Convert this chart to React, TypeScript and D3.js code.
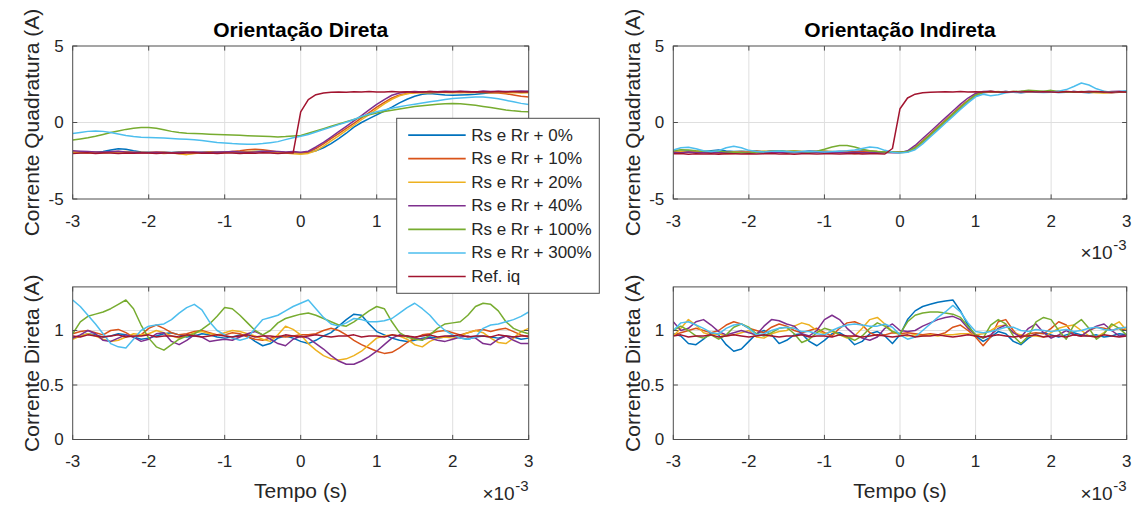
import * as d3 from "d3";

// time axis in ms (plotted with a x10^-3 exponent label)
const TIME_MS = d3.range(-30, 31).map((v) => v / 10);
const X_TICKS = [-3, -2, -1, 0, 1, 2, 3];
const IQ_TICKS = [-5, 0, 5];
const ID_TICKS = [0, 0.5, 1];

const SERIES_NAMES = [
  "Rs e Rr + 0%",
  "Rs e Rr + 10%",
  "Rs e Rr + 20%",
  "Rs e Rr + 40%",
  "Rs e Rr + 100%",
  "Rs e Rr + 300%",
  "Ref. iq",
];
const SERIES_COLORS = ["#0072BD", "#D95319", "#EDB120", "#7E2F8E", "#77AC30", "#4DBEEE", "#A2142F"];

// ---- Orientação Direta, corrente de quadratura ----
const IQD_0 = [
  -1.95, -1.97, -1.93, -1.96, -1.9, -1.8, -1.72, -1.75, -1.85, -1.92,
  -1.95, -1.97, -1.94, -1.96, -1.93, -1.95, -1.97, -1.94, -1.92, -1.95,
  -1.93, -1.96, -1.94, -1.92, -1.9, -1.88, -1.92, -1.95, -1.97, -1.98,
  -2.0, -1.97, -1.85, -1.65, -1.38, -1.05, -0.7, -0.3, 0.0, 0.25,
  0.5, 0.75, 1.0, 1.28, 1.52, 1.72, 1.85, 1.9, 1.85, 1.8,
  1.78, 1.8, 1.82, 1.85, 1.9, 1.95, 1.98, 2.0, 1.98, 2.0,
  2.02,
];
const IQD_10 = [
  -1.92, -1.95, -1.97, -1.94, -1.96, -1.93, -1.9, -1.95, -1.97, -1.94,
  -1.96, -1.93, -1.95, -1.97, -1.94, -1.92, -1.95, -1.96, -1.93, -1.95,
  -1.94, -1.9, -1.85, -1.78, -1.75, -1.78, -1.85, -1.92, -1.96, -1.98,
  -2.0, -1.93, -1.7, -1.4, -1.05, -0.72, -0.38, -0.05, 0.3, 0.65,
  1.0, 1.32, 1.6, 1.8, 1.9, 1.95, 1.98, 1.96, 1.98, 2.0,
  1.98, 1.96, 1.98, 2.0, 1.97, 1.95, 1.92, 1.88, 1.8, 1.72,
  1.67,
];
const IQD_20 = [
  -1.95, -1.98, -2.0, -1.97, -1.99, -1.96, -1.93, -1.9, -1.95, -1.98,
  -2.0, -1.97, -2.02, -1.99, -2.05, -2.1, -2.02, -1.98, -1.96, -1.99,
  -1.97, -1.95, -1.92, -1.9, -1.88, -1.92, -1.95, -1.97, -2.0, -2.05,
  -2.08, -2.02, -1.85, -1.55, -1.2, -0.88, -0.52, -0.18, 0.18, 0.52,
  0.88, 1.22, 1.52, 1.75, 1.88, 1.94, 1.96, 1.95, 1.97, 1.96,
  1.95, 1.97, 1.94, 1.96, 1.98, 1.95, 1.97, 1.94, 1.96, 1.93,
  1.95,
];
const IQD_40 = [
  -1.85, -1.88, -1.9, -1.92, -1.95, -1.9, -1.88, -1.92, -1.95, -1.98,
  -1.97, -1.95, -1.98, -2.0, -1.97, -1.95, -1.93, -1.96, -1.98, -1.95,
  -1.93, -1.9, -1.92, -1.95, -1.93, -1.9, -1.88, -1.9, -1.92, -1.9,
  -1.95, -1.88, -1.6, -1.3, -0.95, -0.6, -0.25, 0.1, 0.45, 0.82,
  1.18, 1.5, 1.78, 1.93, 2.0, 2.02, 2.0, 2.03, 2.01, 2.04,
  2.02, 2.05, 2.03, 2.0, 2.06, 2.03, 2.05, 2.02, 2.04, 2.06,
  2.05,
];
const IQD_100 = [
  -1.15, -1.08, -1.0, -0.9, -0.78, -0.65, -0.55, -0.45, -0.38, -0.33,
  -0.33, -0.38, -0.48, -0.58, -0.65, -0.7, -0.72, -0.74, -0.76, -0.78,
  -0.8, -0.82, -0.84, -0.86, -0.88, -0.9, -0.92, -0.94, -0.92, -0.88,
  -0.85, -0.7, -0.55, -0.4, -0.25, -0.1, 0.05, 0.2, 0.35, 0.5,
  0.62, 0.72, 0.8, 0.88, 0.96, 1.04, 1.1, 1.15, 1.2, 1.23,
  1.24, 1.22, 1.18, 1.12, 1.05, 0.98, 0.9, 0.82, 0.76, 0.72,
  0.7,
];
const IQD_300 = [
  -0.72, -0.65, -0.58, -0.55, -0.58, -0.65, -0.75, -0.85, -0.92, -0.97,
  -0.98, -1.0, -1.02, -1.05, -1.08, -1.1, -1.12, -1.18, -1.24, -1.3,
  -1.34, -1.38, -1.4, -1.42, -1.42, -1.38, -1.32, -1.25, -1.12, -1.0,
  -0.9, -0.78, -0.62, -0.46, -0.3, -0.14, 0.02, 0.2, 0.4, 0.55,
  0.7, 0.82, 0.93, 1.03, 1.12, 1.2, 1.28, 1.35, 1.42, 1.5,
  1.57, 1.6, 1.63, 1.66, 1.67, 1.62, 1.55, 1.45, 1.35, 1.25,
  1.17,
];
const IQD_REF = [
  -2.02, -2.0, -1.98, -2.03, -2.0, -1.99, -2.02, -2.0, -2.01, -1.99,
  -2.0, -2.02, -1.99, -2.0, -2.03, -2.0, -1.98, -2.01, -2.0, -2.02,
  -2.0, -1.99, -2.02, -2.0, -2.01, -1.98, -2.0, -2.02, -2.0, -2.0,
  0.7, 1.5, 1.82, 1.93, 1.98, 2.0, 1.98, 2.01, 2.0, 2.02,
  2.0, 1.99, 2.02, 2.0, 2.01, 1.98, 2.0, 2.02, 2.0, 2.01,
  1.99, 2.02, 2.0, 2.01, 2.0, 1.99, 2.02, 2.0, 2.01, 2.0,
  2.0,
];

// ---- Orientação Indireta, corrente de quadratura ----
const IQI_0 = [
  -1.88, -1.9, -1.86, -1.92, -1.89, -1.85, -1.8, -1.86, -1.9, -1.88,
  -1.9, -1.87, -1.92, -1.88, -1.85, -1.9, -1.88, -1.91, -1.87, -1.9,
  -1.88, -1.91, -1.89, -1.92, -1.9, -1.87, -1.9, -1.92, -1.89, -1.93,
  -1.95, -1.92, -1.7, -1.3, -0.85, -0.4, 0.05, 0.5, 0.95, 1.35,
  1.75, 1.95, 2.0, 1.97, 2.02, 1.98, 1.95, 2.0, 2.02, 1.97,
  2.0, 1.96, 1.98, 2.02, 1.97, 1.95, 2.0, 1.98, 1.96, 2.0,
  2.02,
];
const IQI_10 = [
  -1.9, -1.95, -1.93, -1.88, -1.92, -1.96, -2.0, -2.05, -2.02, -1.95,
  -1.9, -1.88, -1.92, -1.87, -1.9, -1.93, -1.89, -1.92, -1.9, -1.88,
  -1.9, -1.93, -1.9, -1.88, -1.91, -1.89, -1.86, -1.9, -1.92, -1.94,
  -1.95, -1.9, -1.62, -1.2, -0.75, -0.3, 0.15, 0.6, 1.05, 1.45,
  1.82, 1.98, 2.02, 1.98, 2.0, 2.03, 1.98, 2.0, 1.97, 2.01,
  1.98, 2.02, 2.0, 1.97, 2.01, 1.98, 2.0, 1.96, 1.94, 1.98,
  2.0,
];
const IQI_20 = [
  -1.92, -1.9, -1.95, -1.92, -1.89, -1.93, -1.9, -1.95, -1.92, -1.9,
  -1.93, -1.9, -1.88, -1.92, -1.95, -1.9, -1.87, -1.9, -1.93, -1.9,
  -1.88, -1.9, -1.93, -1.96, -2.05, -2.0, -1.93, -1.9, -1.92, -1.95,
  -1.97, -1.93, -1.68, -1.28, -0.83, -0.38, 0.08, 0.53, 0.98, 1.4,
  1.8, 1.97, 2.0, 2.03, 1.98, 2.0, 2.02, 1.98, 2.0, 1.97,
  2.0, 1.98, 2.02, 1.99, 2.0, 1.97, 1.95, 1.92, 1.97, 2.0,
  1.98,
];
const IQI_40 = [
  -1.95, -1.97, -1.93, -1.96, -1.98, -1.94, -1.96, -1.93, -1.97, -1.95,
  -1.96, -1.94, -1.97, -1.95, -1.93, -1.96, -1.98, -1.94, -1.96, -1.95,
  -1.93, -1.96, -1.94, -1.97, -1.95, -1.98, -1.96, -1.94, -1.96, -1.97,
  -1.97, -1.85, -1.5, -1.05, -0.6, -0.15, 0.3, 0.75, 1.2, 1.6,
  1.9, 2.02, 2.05, 2.0, 2.03, 1.98, 2.02, 2.05, 2.0, 2.03,
  2.0, 2.02, 1.98, 2.03, 2.0, 2.04, 2.01, 1.98, 2.02, 2.05,
  2.0,
];
const IQI_100 = [
  -1.85, -1.78, -1.8, -1.85, -1.88, -1.9, -1.87, -1.92, -1.95, -1.98,
  -2.0, -1.95, -1.9, -1.88, -1.85, -1.9, -1.88, -1.9, -1.92, -1.88,
  -1.75, -1.6, -1.5, -1.5, -1.6, -1.75, -1.85, -1.9, -1.92, -1.93,
  -1.95, -1.9, -1.65, -1.25, -0.8, -0.35, 0.1, 0.55, 1.0, 1.42,
  1.8, 1.97, 2.02, 2.0, 1.98, 2.02, 2.05, 2.1, 2.08, 2.05,
  2.1, 2.02, 2.0, 1.98, 2.02, 1.99, 2.0, 2.03, 1.98, 2.0,
  2.02,
];
const IQI_300 = [
  -1.8, -1.65, -1.62, -1.72, -1.85, -1.9, -1.85, -1.65, -1.55, -1.65,
  -1.82, -1.9, -1.92, -1.88, -1.86, -1.9, -1.93, -1.9, -1.88, -1.9,
  -1.92, -1.9, -1.88, -1.85, -1.8, -1.7, -1.6, -1.65, -1.82, -1.95,
  -2.0, -1.95, -1.78, -1.4, -0.95, -0.5, -0.05, 0.4, 0.85, 1.28,
  1.68, 1.85, 1.75, 1.82, 1.95, 2.0, 1.97, 2.02, 1.98, 1.96,
  1.98, 2.05, 2.15, 2.35, 2.58, 2.45, 2.2, 2.05, 1.98, 2.02,
  2.08,
];
const IQI_REF = [
  -2.05, -2.03, -2.07, -2.04, -2.06, -2.05, -2.08, -2.04, -2.05, -2.06,
  -2.04, -2.06, -2.05, -2.03, -2.06, -2.05, -2.07, -2.04, -2.05, -2.06,
  -2.05, -2.04, -2.06, -2.05, -2.03, -2.06, -2.05, -2.04, -2.06, -1.7,
  0.9, 1.6, 1.85, 1.94, 1.98, 2.0, 2.01, 1.99, 2.02, 2.0,
  2.01, 1.99, 2.02, 2.0, 1.98, 2.01, 2.0, 2.02, 1.99, 2.01,
  2.0, 1.98, 2.02, 2.0, 2.01, 1.99, 2.02, 2.0, 1.98, 2.01,
  2.0,
];

// ---- Orientação Direta, corrente direta ----
const IDD_0 = [
  0.93, 0.95, 0.97, 0.96, 0.94, 0.95, 0.97, 0.96, 0.94, 0.92,
  0.93, 0.95, 0.97, 0.98, 0.96, 0.94, 0.95, 0.97, 0.96, 0.94,
  0.93, 0.94, 0.96, 0.95, 0.9, 0.86, 0.88, 0.93, 0.95, 0.93,
  0.9, 0.88, 0.91, 0.95, 0.98, 1.04, 1.1, 1.15, 1.14, 1.06,
  0.99, 0.96, 0.93, 0.91, 0.9, 0.91, 0.93, 0.94, 0.93, 0.94,
  0.95, 0.93, 0.92, 0.94, 0.95, 0.94, 0.93, 0.95, 0.94, 0.92,
  0.93,
];
const IDD_10 = [
  0.97, 0.99, 1.0, 0.98, 0.96, 1.0, 1.01, 0.98, 0.94, 0.96,
  1.02, 1.05, 1.02, 0.98, 0.96, 0.97, 0.99, 1.0, 0.98, 0.96,
  0.96, 0.98, 0.97, 0.94, 0.92, 0.91, 0.93, 0.95, 0.94, 0.95,
  0.96, 0.96, 0.97, 1.0, 1.02, 1.0, 0.96, 0.91, 0.87, 0.84,
  0.81, 0.79, 0.8, 0.84, 0.89, 0.93, 0.96, 0.97, 0.99, 1.0,
  0.98, 0.96, 0.98, 1.0, 1.01, 0.99, 1.01, 1.02, 0.99, 0.96,
  0.94,
];
const IDD_20 = [
  0.92, 0.95, 0.97, 0.95, 0.92, 0.9, 0.91, 0.94, 0.97, 0.96,
  0.97, 1.0, 0.98, 0.95, 0.93, 0.95, 0.98, 0.99, 0.97, 0.96,
  0.98, 1.0, 0.99, 0.97, 0.95, 0.92, 0.9, 0.96, 1.04, 1.01,
  0.96, 0.88, 0.82, 0.77, 0.74, 0.73, 0.74, 0.77, 0.81, 0.87,
  0.93, 0.95, 0.96, 0.95, 0.92, 0.87, 0.85, 0.9, 0.93, 0.94,
  0.93, 0.95, 0.98, 1.0, 0.98, 0.93, 0.89, 0.88, 0.93, 0.99,
  1.02,
];
const IDD_40 = [
  0.93, 0.96, 1.0, 0.97, 0.91, 0.9, 0.93, 0.96, 0.94, 0.9,
  0.92, 0.97, 0.98, 0.9, 0.87, 0.91, 0.96, 0.94, 0.9, 0.91,
  0.92, 0.91, 0.94, 0.97, 0.99, 0.96, 0.92, 0.88, 0.86, 0.92,
  0.95, 0.93, 0.88, 0.83, 0.77, 0.72, 0.69, 0.69, 0.72, 0.76,
  0.81, 0.87, 0.93, 0.96, 0.95, 0.93, 0.92, 0.93, 0.91, 0.9,
  0.92, 0.94, 0.95, 0.93, 0.88, 0.87, 0.92, 0.95, 0.91, 0.88,
  0.88,
];
const IDD_100 = [
  0.97, 1.08, 1.13, 1.15, 1.17, 1.2, 1.24, 1.28, 1.2, 1.05,
  0.93, 0.85, 0.82, 0.87, 0.92, 0.95, 0.97, 1.01, 1.06, 1.13,
  1.21, 1.2, 1.14, 1.07, 1.0, 0.96, 1.0, 1.07, 1.11, 1.13,
  1.15, 1.16, 1.14, 1.11, 1.08, 1.05, 1.04, 1.08, 1.13, 1.18,
  1.22, 1.2, 1.08, 0.98, 0.94, 0.92, 0.91, 0.96, 1.02, 1.06,
  1.07, 1.08, 1.14, 1.22, 1.25, 1.24, 1.18, 1.08, 1.02, 0.99,
  0.97,
];
const IDD_300 = [
  1.28, 1.22, 1.14, 1.06, 0.97, 0.88, 0.85, 0.84, 0.92, 1.0,
  1.04, 1.05, 1.06, 1.1, 1.16, 1.21, 1.24, 1.19, 1.08, 1.0,
  0.96, 0.93, 0.91, 0.93, 1.02, 1.1, 1.12, 1.14, 1.18, 1.22,
  1.25, 1.28, 1.2, 1.12, 1.06, 1.04, 1.07, 1.11, 1.1, 1.08,
  1.08, 1.09, 1.11, 1.16, 1.21, 1.25, 1.2, 1.14, 1.06, 1.0,
  0.96, 0.93, 0.92, 0.94, 1.02, 1.05, 1.06, 1.08, 1.1, 1.13,
  1.17,
];
const IDD_REF = [
  0.95, 0.94, 0.96, 0.95, 0.94, 0.95, 0.96, 0.94, 0.95, 0.95,
  0.96, 0.94, 0.95, 0.95, 0.94, 0.96, 0.95, 0.94, 0.95, 0.96,
  0.95, 0.94, 0.95, 0.96, 0.94, 0.95, 0.95, 0.94, 0.96, 0.95,
  0.94, 0.95, 0.96, 0.95, 0.94, 0.95, 0.95, 0.96, 0.94, 0.95,
  0.95, 0.94, 0.96, 0.95, 0.95, 0.94, 0.95, 0.96, 0.94, 0.95,
  0.95, 0.96, 0.94, 0.95, 0.95, 0.94, 0.96, 0.95, 0.94, 0.95,
  0.95,
];

// ---- Orientação Indireta, corrente direta ----
const IDI_0 = [
  0.97, 0.95, 0.88, 0.87, 0.92, 0.98, 0.96, 0.87, 0.81, 0.83,
  0.9, 0.97, 1.0, 0.96, 0.88, 0.91, 0.96, 0.97, 0.9, 0.86,
  0.91, 0.97, 0.98, 0.94, 0.87, 0.9, 0.97, 0.99, 0.95, 0.88,
  0.96, 1.1, 1.18, 1.22, 1.24, 1.26, 1.27, 1.28, 1.18, 1.05,
  0.95, 0.9, 0.94, 0.99, 0.97, 0.9, 0.87, 0.93, 0.97, 0.98,
  0.96, 0.94, 0.96, 0.98, 0.96, 0.95, 0.96, 0.94, 0.95, 0.97,
  0.96,
];
const IDI_10 = [
  0.96, 0.98, 1.0, 1.02, 1.0, 0.98, 1.0, 1.05, 1.08, 1.06,
  1.02, 1.0, 0.98, 1.03, 1.06, 1.04, 1.0, 0.98, 1.0, 1.02,
  0.98, 0.95, 1.02, 1.07, 1.08, 1.05, 0.98, 0.95, 0.96, 0.98,
  0.97, 0.98, 0.97, 0.96, 0.97, 0.96, 0.98, 1.03, 1.05, 1.0,
  0.94, 0.86, 0.94, 1.08, 1.1, 1.0, 0.93, 0.97, 0.98, 0.97,
  1.02, 1.08, 1.05, 0.96, 0.95, 1.0, 1.03, 1.02, 1.0, 1.02,
  1.0,
];
const IDI_20 = [
  0.95, 1.02, 1.1, 1.05, 0.98, 0.96, 0.97, 0.95, 0.96, 0.98,
  1.0, 0.94, 0.93, 0.97, 0.99, 1.0, 1.04, 1.07, 1.05, 1.0,
  0.97, 0.99, 0.96, 0.93, 0.95, 1.02, 1.1, 1.12, 1.06, 0.99,
  0.96, 0.95, 0.96, 0.95, 0.96, 0.95, 0.96, 0.96, 0.97, 0.97,
  0.96, 0.97, 1.0, 1.04, 1.05, 0.98, 0.96, 0.95, 0.95, 0.94,
  0.98, 1.02, 1.04, 1.05, 1.0, 0.95, 0.94, 0.98, 1.04, 1.08,
  1.0,
];
const IDI_40 = [
  1.08, 1.0, 1.02, 1.08, 1.1, 1.05, 0.99, 0.96, 0.98, 1.0,
  0.98, 0.96, 1.04, 1.1, 1.09, 1.06, 1.04, 0.97, 0.95, 1.0,
  1.1, 1.14, 1.1, 1.02, 0.96, 0.93, 0.91, 0.94, 1.02, 1.06,
  1.0, 0.99, 1.0, 1.04, 1.07, 1.1, 1.12, 1.13, 1.1, 1.02,
  0.96, 0.93, 0.96, 1.02, 1.05, 0.98, 0.94, 1.02, 1.06, 0.98,
  0.93, 0.96, 1.0, 0.96, 0.95, 1.0, 1.04, 1.06, 1.0, 0.95,
  0.96,
];
const IDI_100 = [
  1.0, 1.04, 1.0, 0.95, 0.93, 0.96, 0.92, 0.96, 1.03, 1.06,
  1.03, 0.97, 0.95, 0.98, 1.02, 1.03, 0.97, 0.89, 0.92, 0.98,
  1.02, 1.0, 0.96, 0.94, 0.91, 0.95, 1.02, 1.07, 1.04, 0.99,
  0.97, 1.08, 1.14, 1.16, 1.17, 1.17, 1.16, 1.15, 1.12, 1.04,
  0.96, 0.93, 1.05, 1.1, 1.06, 0.95, 0.88, 0.95, 1.08, 1.12,
  1.1, 1.0, 0.92, 1.05, 1.1, 1.02, 0.92, 0.97, 1.06, 1.02,
  0.96,
];
const IDI_300 = [
  1.0, 1.07, 1.08, 1.05, 1.02, 0.98, 0.97, 1.02, 1.05, 1.06,
  1.02, 0.96, 0.97, 1.0, 1.02, 1.03, 1.02, 0.99, 0.99, 0.97,
  0.96, 1.0, 1.03, 1.05, 1.06, 1.05, 1.04, 1.04, 1.06, 1.03,
  0.96, 0.92, 0.94, 1.0, 1.06, 1.12, 1.17, 1.23, 1.17, 1.07,
  0.99, 0.98, 0.99, 1.01, 1.03, 1.03, 1.0, 0.99, 1.01, 1.0,
  0.99, 1.0, 1.01, 0.99, 1.0, 1.02, 1.03, 1.01, 1.0, 1.02,
  1.03,
];
const IDI_REF = [
  0.95, 0.96, 0.94, 0.95, 0.95, 0.96, 0.94, 0.95, 0.96, 0.95,
  0.94, 0.95, 0.96, 0.95, 0.94, 0.95, 0.95, 0.96, 0.94, 0.95,
  0.95, 0.94, 0.96, 0.95, 0.95, 0.94, 0.95, 0.96, 0.95, 0.94,
  0.95, 0.96, 0.94, 0.95, 0.95, 0.96, 0.95, 0.94, 0.95, 0.96,
  0.95, 0.94, 0.95, 0.96, 0.95, 0.94, 0.95, 0.95, 0.96, 0.94,
  0.95, 0.95, 0.94, 0.96, 0.95, 0.95, 0.94, 0.96, 0.95, 0.94,
  0.95,
];

const FONT = "'Liberation Sans', Arial, Helvetica, sans-serif";
const TEXT_COLOR = "#262626";

type PanelProps = {
  id: string;
  left: number;
  right: number;
  top: number;
  bottom: number;
  yDomain: [number, number];
  yTicks: number[];
  series: number[][];
  yLabel: string;
  title?: string;
  xLabel?: string;
  showExponent?: boolean;
  // tick labels right of this x sit under the legend in the original, so they are left out
  xLabelLimit?: number;
};

function Panel({
  id,
  left,
  right,
  top,
  bottom,
  yDomain,
  yTicks,
  series,
  yLabel,
  title,
  xLabel,
  showExponent,
  xLabelLimit = Infinity,
}: PanelProps) {
  const x = d3.scaleLinear().domain([-3, 3]).range([left, right]);
  const y = d3.scaleLinear().domain(yDomain).range([bottom, top]);
  const line = d3
    .line<number>()
    .x((_, i) => x(TIME_MS[i]))
    .y((d) => y(d));
  const tickLen = 4.6;
  const midX = (left + right) / 2;
  const midY = (top + bottom) / 2;

  return (
    <g>
      <defs>
        <clipPath id={`clip-${id}`}>
          <rect x={left} y={top} width={right - left} height={bottom - top} />
        </clipPath>
      </defs>
      <rect x={left} y={top} width={right - left} height={bottom - top} fill="#fff" />
      {/* grid */}
      {X_TICKS.filter((t) => t > -3 && t < 3).map((t) => (
        <line key={`gx${t}`} x1={x(t)} x2={x(t)} y1={top} y2={bottom} stroke="#dfdfdf" strokeWidth={1} />
      ))}
      {yTicks
        .filter((t) => y(t) > top + 1 && y(t) < bottom - 1)
        .map((t) => (
          <line key={`gy${t}`} x1={left} x2={right} y1={y(t)} y2={y(t)} stroke="#dfdfdf" strokeWidth={1} />
        ))}
      {/* data */}
      <g clipPath={`url(#clip-${id})`}>
        {series.map((s, i) => (
          <path
            key={i}
            d={line(s) ?? ""}
            fill="none"
            stroke={SERIES_COLORS[i]}
            strokeWidth={1.5}
            strokeLinejoin="round"
          />
        ))}
      </g>
      {/* box + ticks */}
      <rect x={left} y={top} width={right - left} height={bottom - top} fill="none" stroke="#4d4d4d" strokeWidth={1} />
      {X_TICKS.map((t) => (
        <g key={`tx${t}`}>
          <line x1={x(t)} x2={x(t)} y1={bottom} y2={bottom - tickLen} stroke="#4d4d4d" />
          <line x1={x(t)} x2={x(t)} y1={top} y2={top + tickLen} stroke="#4d4d4d" />
          {x(t) < xLabelLimit && (
            <text
              x={x(t)}
              y={bottom + 27.5}
              textAnchor="middle"
              fontSize={17}
              fontFamily={FONT}
              fill={TEXT_COLOR}
            >
              {String(t)}
            </text>
          )}
        </g>
      ))}
      {yTicks.map((t) => (
        <g key={`ty${t}`}>
          <line x1={left} x2={left + tickLen} y1={y(t)} y2={y(t)} stroke="#4d4d4d" />
          <line x1={right} x2={right - tickLen} y1={y(t)} y2={y(t)} stroke="#4d4d4d" />
          <text
            x={left - 9}
            y={y(t)}
            textAnchor="end"
            dominantBaseline="central"
            fontSize={17}
            fontFamily={FONT}
            fill={TEXT_COLOR}
          >
            {String(t)}
          </text>
        </g>
      ))}
      <text
        transform={`translate(${left - 41},${midY}) rotate(-90)`}
        textAnchor="middle"
        dominantBaseline="central"
        fontSize={21}
        fontFamily={FONT}
        fill={TEXT_COLOR}
      >
        {yLabel}
      </text>
      {title && (
        <text x={midX} y={top - 9.5} textAnchor="middle" fontSize={21} fontWeight="bold" fontFamily={FONT} fill="#000">
          {title}
        </text>
      )}
      {xLabel && (
        <text x={midX} y={bottom + 58.5} textAnchor="middle" fontSize={21} fontFamily={FONT} fill={TEXT_COLOR}>
          {xLabel}
        </text>
      )}
      {showExponent && (
        <g fontFamily={FONT} fill={TEXT_COLOR}>
          <text x={right - 14} y={bottom + 60} textAnchor="end" fontSize={19}>
            ×10
          </text>
          <text x={right} y={bottom + 51} textAnchor="end" fontSize={15}>
            -3
          </text>
        </g>
      )}
    </g>
  );
}

function Legend({ left, top, width, height }: { left: number; top: number; width: number; height: number }) {
  const row = d3
    .scaleBand()
    .domain(SERIES_NAMES)
    .range([top + 5, top + height - 5]);
  return (
    <g>
      <rect x={left} y={top} width={width} height={height} fill="#fff" stroke="#4d4d4d" strokeWidth={1} />
      {SERIES_NAMES.map((name, i) => {
        const cy = (row(name) ?? 0) + row.bandwidth() / 2;
        return (
          <g key={name}>
            <line x1={left + 11.5} x2={left + 69} y1={cy} y2={cy} stroke={SERIES_COLORS[i]} strokeWidth={1.6} />
            <text
              x={left + 74.5}
              y={cy}
              dominantBaseline="central"
              fontSize={17}
              fontFamily={FONT}
              fill={TEXT_COLOR}
            >
              {name}
            </text>
          </g>
        );
      })}
    </g>
  );
}

export default function App() {
  const LEFT = [72.7, 528.7];
  const RIGHT = [673.3, 1126.7];
  const TOP_ROW = [46, 199];
  const BOTTOM_ROW = [286.9, 439.5];
  const LEGEND = { left: 396.7, top: 118.3, width: 202.6, height: 175 };

  return (
    <svg
      width={1137}
      height={506}
      viewBox="0 0 1137 506"
      style={{ position: "absolute", left: 0, top: 0, background: "#fff" }}
    >
      <rect width={1137} height={506} fill="#fff" />
      <Panel
        id="iqd"
        left={LEFT[0]}
        right={LEFT[1]}
        top={TOP_ROW[0]}
        bottom={TOP_ROW[1]}
        yDomain={[-5, 5]}
        yTicks={IQ_TICKS}
        series={[IQD_0, IQD_10, IQD_20, IQD_40, IQD_100, IQD_300, IQD_REF]}
        yLabel="Corrente Quadratura (A)"
        title="Orientação Direta"
        xLabelLimit={LEGEND.left}
      />
      <Panel
        id="iqi"
        left={RIGHT[0]}
        right={RIGHT[1]}
        top={TOP_ROW[0]}
        bottom={TOP_ROW[1]}
        yDomain={[-5, 5]}
        yTicks={IQ_TICKS}
        series={[IQI_0, IQI_10, IQI_20, IQI_40, IQI_100, IQI_300, IQI_REF]}
        yLabel="Corrente Quadratura (A)"
        title="Orientação Indireta"
        showExponent
      />
      <Panel
        id="idd"
        left={LEFT[0]}
        right={LEFT[1]}
        top={BOTTOM_ROW[0]}
        bottom={BOTTOM_ROW[1]}
        yDomain={[0, 1.4]}
        yTicks={ID_TICKS}
        series={[IDD_0, IDD_10, IDD_20, IDD_40, IDD_100, IDD_300, IDD_REF]}
        yLabel="Corrente Direta (A)"
        xLabel="Tempo (s)"
        showExponent
      />
      <Panel
        id="idi"
        left={RIGHT[0]}
        right={RIGHT[1]}
        top={BOTTOM_ROW[0]}
        bottom={BOTTOM_ROW[1]}
        yDomain={[0, 1.4]}
        yTicks={ID_TICKS}
        series={[IDI_0, IDI_10, IDI_20, IDI_40, IDI_100, IDI_300, IDI_REF]}
        yLabel="Corrente Direta (A)"
        xLabel="Tempo (s)"
        showExponent
      />
      <Legend {...LEGEND} />
    </svg>
  );
}
